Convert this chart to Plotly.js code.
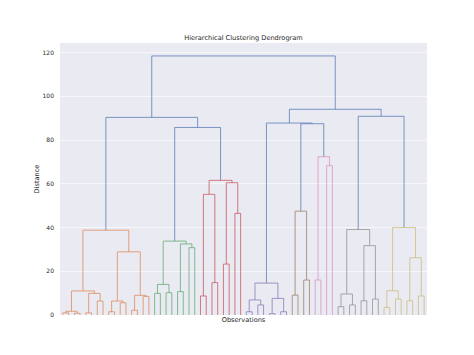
<!DOCTYPE html>
<html>
<head>
<meta charset="utf-8">
<script src="https://cdn.plot.ly/plotly-3.0.1.min.js"></script>
<style>html,body{margin:0;padding:0;background:#fff;}#chart{width:474px;height:355px;}</style>
</head>
<body>
<div id="chart"></div>
<script>
// Number of observations (leaves), in dendrogram order
const leafCount = 64;

// Linkage: node ids < leafCount are leaves; id leafCount+k is merge k
const mergeLeft = [
  0, 2, 64, 4, 6, 67, 66, 8, 10, 71, 12, 14, 74, 73, 70,
  16, 18, 79, 20, 22, 82, 81,
  24, 26, 86, 28, 30, 89, 88,
  85, 78,
  32, 34, 95, 36, 38, 98, 97,
  40, 42, 102,
  44, 46, 105,
  104, 101,
  48, 50, 110, 52, 54, 113, 112,
  56, 58, 117, 60, 62, 120, 119,
  116, 109, 94
];
const mergeRight = [
  1, 3, 65, 5, 7, 68, 69, 9, 11, 72, 13, 15, 75, 76, 77,
  17, 19, 80, 21, 23, 83, 84,
  25, 27, 87, 29, 31, 90, 91,
  92, 93,
  33, 35, 96, 37, 39, 99, 100,
  41, 43, 103,
  45, 47, 106,
  107, 108,
  49, 51, 111, 53, 55, 114, 115,
  57, 59, 118, 61, 63, 121, 122,
  123, 124, 125
];
const mergeHeight = [
  1.0, 0.8, 1.7, 1.0, 6.4, 9.9, 11.0, 1.5, 5.6, 6.4, 2.2, 8.5, 9.0, 28.9, 38.8,
  9.9, 10.2, 14.0, 10.7, 30.8, 32.5, 33.8,
  8.7, 14.8, 55.2, 23.3, 46.5, 60.5, 61.6,
  85.8, 90.4,
  1.5, 4.6, 6.9, 0.6, 1.5, 7.6, 14.6,
  9.1, 16.0, 47.5,
  16.0, 68.3, 72.4,
  87.5, 87.8,
  3.8, 4.6, 9.6, 6.5, 7.3, 31.7, 39.1,
  3.5, 7.3, 11.1, 6.5, 8.7, 26.2, 40.0,
  90.9, 94.1, 118.5
];
// cluster colour index per merge (0 = above threshold)
const mergeCluster = [
  1,1,1,1,1,1,1,1,1,1,1,1,1,1,1,
  2,2,2,2,2,2,2,
  3,3,3,3,3,3,3,
  0,0,
  4,4,4,4,4,4,4,
  5,5,5,
  6,6,6,
  0,0,
  7,7,7,7,7,7,7,
  8,8,8,8,8,8,8,
  0,0,0
];
const clusterColors = ['#4C72B0','#DD8452','#55A868','#C44E52','#8172B3','#937860','#DA8BC3','#8C8C8C','#CCB974'];
const yTicks = [0, 20, 40, 60, 80, 100, 120];

// compute node positions like scipy's dendrogram
const nodeX = {}, nodeH = {};
let order = 0;
function place(id) {
  if (id < leafCount) { nodeX[id] = 5 + 10 * order; nodeH[id] = 0; order++; return; }
  const k = id - leafCount;
  place(mergeLeft[k]); place(mergeRight[k]);
  nodeX[id] = (nodeX[mergeLeft[k]] + nodeX[mergeRight[k]]) / 2;
  nodeH[id] = mergeHeight[k];
}
place(leafCount + mergeLeft.length - 1);

const traceData = clusterColors.map(() => ({x: [], y: []}));
for (let k = 0; k < mergeLeft.length; k++) {
  const l = mergeLeft[k], r = mergeRight[k], t = traceData[mergeCluster[k]];
  t.x.push(nodeX[l], nodeX[l], nodeX[r], nodeX[r], null);
  t.y.push(nodeH[l], mergeHeight[k], mergeHeight[k], nodeH[r], null);
}
const maxH = Math.max(...mergeHeight);
const traces = traceData.map((t, i) => ({
  x: t.x, y: t.y, type: 'scatter', mode: 'lines', hoverinfo: 'skip',
  line: {color: clusterColors[i], width: 0.8}, opacity: 0.9, showlegend: false
}));

const font = {family: 'DejaVu Sans, sans-serif', color: '#262626'};
const layout = {
  width: 474, height: 355,
  margin: {l: 59.5, r: 47, t: 43, b: 40, pad: 0},
  paper_bgcolor: '#ffffff', plot_bgcolor: '#EAEAF2',
  font: Object.assign({size: 6}, font),
  title: {text: 'Hierarchical Clustering Dendrogram', x: 0.5, xref: 'paper', xanchor: 'center',
          y: 1, yref: 'paper', yanchor: 'bottom', pad: {b: 3}, font: Object.assign({size: 6.6}, font)},
  xaxis: {range: [0, leafCount * 10], showticklabels: false, ticks: '', showgrid: false, zeroline: false,
          showline: false, fixedrange: true,
          title: {text: 'Observations', font: Object.assign({size: 6.6}, font), standoff: 2}},
  yaxis: {range: [0, maxH * 1.05], tickvals: yTicks, ticktext: yTicks.map(String), ticks: '',
          showgrid: true, gridcolor: '#ffffff', gridwidth: 0.6, zeroline: false, showline: false,
          ticklabelstandoff: 5, tickfont: Object.assign({size: 6}, font),
          title: {text: 'Distance', font: Object.assign({size: 6.6}, font), standoff: 2}}
};
Plotly.newPlot('chart', traces, layout, {staticPlot: true, displayModeBar: false});
</script>
</body>
</html>
